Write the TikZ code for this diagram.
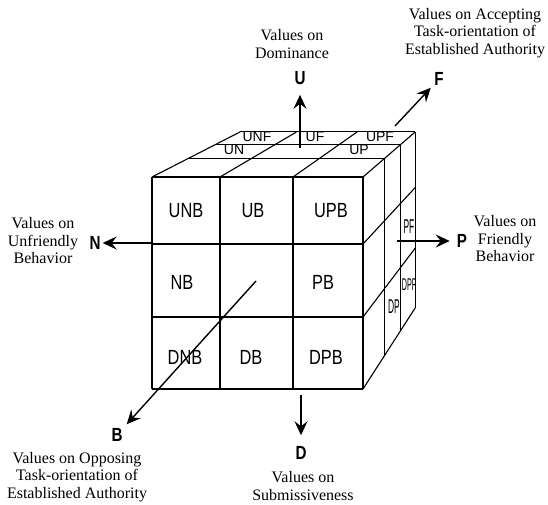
\documentclass[tikz,border=0pt]{standalone}
\usepackage{fontspec}
\setmainfont{Liberation Serif}
\newfontfamily\cellsans[FakeStretch=0.8]{Liberation Sans}
\newfontfamily\topsans{Liberation Sans}
\newfontfamily\sidesans[FakeStretch=0.42]{Liberation Sans}
\usetikzlibrary{calc,arrows.meta}

\begin{document}
\begin{tikzpicture}[x=1pt, y=-1pt, line join=round,
    edge/.style={line width=1.1pt},
    cell/.style={font=\cellsans\fontsize{20.5}{20.5}\selectfont, inner sep=0pt},
    toplbl/.style={font=\topsans\fontsize{14}{14}\selectfont, inner sep=0pt},
    sidelbl/.style={font=\sidesans\fontsize{20}{20}\selectfont, inner sep=0pt},
    pole/.style={font=\cellsans\bfseries\fontsize{19}{19}\selectfont, inner sep=2pt},
    note/.style={align=center, font=\fontsize{16}{17.5}\selectfont},
    axis/.style={-{Stealth[length=14pt,width=13pt,inset=5pt]}, line width=1.4pt}]

    \useasboundingbox (0,0) rectangle (548,505);
    \coordinate (vp) at (670,-88);

    % front face
    \foreach \x in {152,220,293,363}
        \draw[edge] (\x,177) -- (\x,389);
    \foreach \y in {177,244,317,389}
        \draw[edge] (152,\y) -- (363,\y);

    % top face, layers shrink towards vp
    \foreach \s in {0.929,0.879,0.83}
        \draw[edge] ($(vp)!\s!(152,177)$) -- ($(vp)!\s!(363,177)$);
    \foreach \x in {152,220,293,363}
        \draw[edge] (\x,177) -- ($(vp)!0.83!(\x,177)$);

    % right face
    \foreach \s in {0.929,0.879,0.83}
        \draw[edge] ($(vp)!\s!(363,177)$) -- ($(vp)!\s!(363,389)$);
    \foreach \y in {244,317,389}
        \draw[edge] (363,\y) -- ($(vp)!0.83!(363,\y)$);

    \node[cell] (unb) at (186,211) {UNB};
    \node[cell] (ub)  at (253,211) {UB};
    \node[cell] (upb) at (331,211) {UPB};
    \node[cell] (nb)  at (182,282) {NB};
    \node[cell] (pb)  at (323,282) {PB};
    \node[cell] (dnb) at (185,357) {DNB};
    \node[cell] (db)  at (251,357) {DB};
    \node[cell] (dpb) at (326,357) {DPB};

    \node[toplbl] (unf) at (257,137) {UNF};
    \node[toplbl] (uf)  at (315,137) {UF};
    \node[toplbl] (upf) at (380,137) {UPF};
    \node[toplbl] (un)  at (234,150) {UN};
    \node[toplbl] (up)  at (359,150) {UP};

    \node[sidelbl] (pf)  at (409,227) {PF};
    \node[sidelbl, font=\sidesans\fontsize{17}{17}\selectfont] (dpf) at (409,285) {DPF};
    \node[sidelbl] (dp)  at (394,307) {DP};

    % poles and their meanings
    \node[pole] (U) at (300,78)  {U};
    \node[pole] (F) at (439,79)  {F};
    \node[pole] (N) at (95,243)  {N};
    \node[pole] (P) at (462,241) {P};
    \node[pole] (B) at (117,435) {B};
    \node[pole] (D) at (301,453) {D};

    \node[note] (unote) at (292,44)  {Values on\\Dominance};
    \node[note] (fnote) at (475,33)  {Values on Accepting\\Task-orientation of\\Established Authority};
    \node[note] (nnote) at (43,241)  {Values on\\Unfriendly\\Behavior};
    \node[note] (pnote) at (505,239) {Values on\\Friendly\\Behavior};
    \node[note] (bnote) at (77,477)  {Values on Opposing\\Task-orientation of\\Established Authority};
    \node[note] (dnote) at (303,486) {Values on\\Submissiveness};

    \coordinate (uo) at (300,148);
    \coordinate (fo) at (395,126);
    \coordinate (no) at (152,243);
    \coordinate (po) at (397,241);
    \coordinate (bo) at (256,281);
    \coordinate (do) at (301,395);

    \draw[axis, shorten >=8pt] (uo) -- (U);
    \draw[axis, shorten >=2pt] (fo) -- (F);
    \draw[axis] (no) -- (N);
    \draw[axis, shorten >=5pt] (po) -- (P);
    \draw[axis, shorten >=3pt] (bo) -- (B);
    \draw[axis, shorten >=9pt] (do) -- (D);

\end{tikzpicture}
\end{document}
